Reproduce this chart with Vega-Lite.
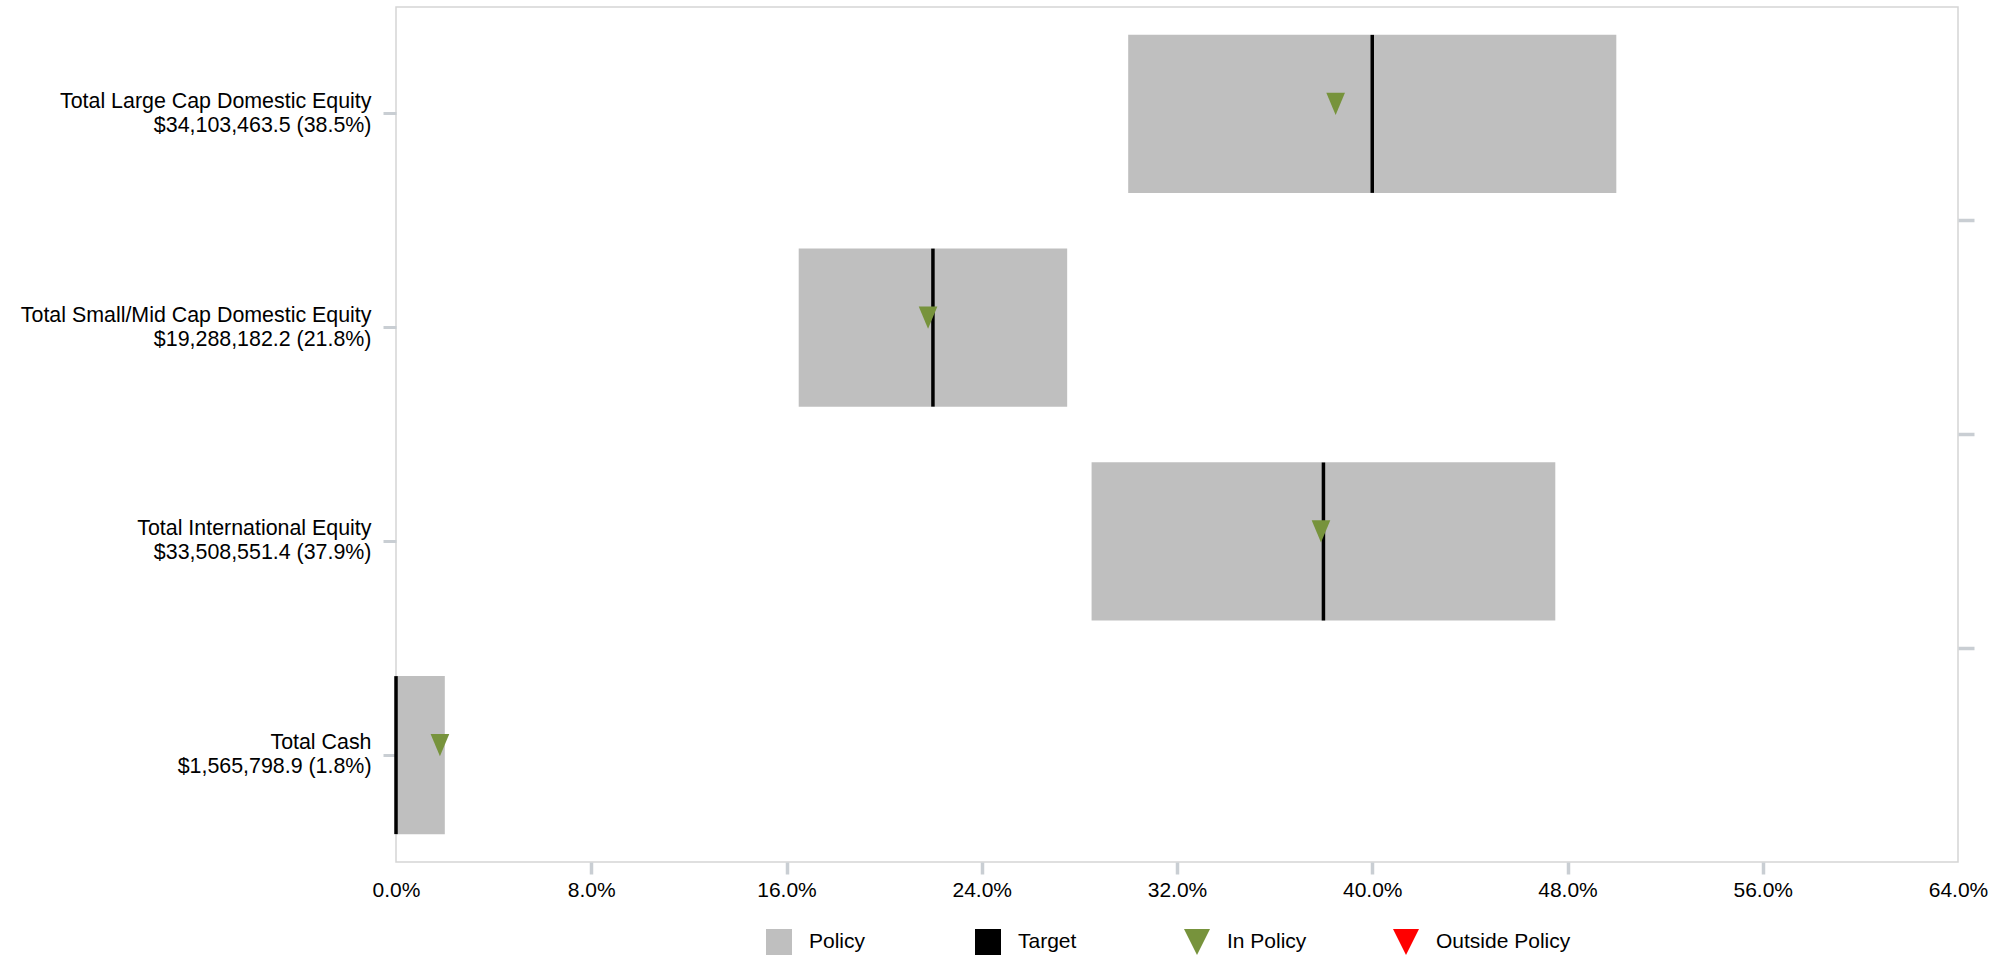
{
  "$schema": "https://vega.github.io/schema/vega-lite/v6.json",
  "width": 1562,
  "height": 855,
  "autosize": {"type": "none"},
  "padding": {"left": 396, "top": 7, "right": 47, "bottom": 96},
  "background": "white",
  "config": {
    "font": "Liberation Sans",
    "view": {"stroke": "#d5d5d5", "strokeWidth": 1.5},
    "axis": {
      "labelFont": "Liberation Sans",
      "labelFontSize": 21,
      "labelColor": "#000000",
      "tickColor": "#c9ced3",
      "domain": false,
      "grid": false,
      "title": null
    }
  },
  "data": {
    "values": [
      {"label": "Total Large Cap Domestic Equity\u00a0|$34,103,463.5 (38.5%)", "low": 0.30, "high": 0.50, "target": 0.40, "actual": 0.385, "status": "In Policy", "policy_key": "Policy", "target_key": "Target"},
      {"label": "Total Small/Mid Cap Domestic Equity\u00a0|$19,288,182.2 (21.8%)", "low": 0.165, "high": 0.275, "target": 0.22, "actual": 0.218, "status": "In Policy", "policy_key": "Policy", "target_key": "Target"},
      {"label": "Total International Equity|$33,508,551.4 (37.9%)", "low": 0.285, "high": 0.475, "target": 0.38, "actual": 0.379, "status": "In Policy", "policy_key": "Policy", "target_key": "Target"},
      {"label": "Total Cash|$1,565,798.9 (1.8%)", "low": 0.0, "high": 0.02, "target": 0.0, "actual": 0.018, "status": "In Policy", "policy_key": "Policy", "target_key": "Target"}
    ]
  },
  "resolve": {"scale": {"y": "shared", "x": "shared", "color": "shared"}, "axis": {"y": "independent"}},
  "layer": [
    {
      "mark": {"type": "bar", "height": {"band": 0.74}, "opacity": 1},
      "encoding": {
        "y": {
          "field": "label", "type": "nominal", "sort": null,
          "scale": {"paddingInner": 0, "paddingOuter": 0},
          "axis": {
            "orient": "left",
            "labelExpr": "split(datum.label, '|')",
            "labelLineHeight": 24,
            "labelLimit": 500,
            "labelAlign": "right",
            "labelBaseline": "middle",
            "labelPadding": 12,
            "labelOffset": -12,
            "tickSize": 13,
            "tickWidth": 3,
            "tickColor": "#c9ced3",
            "labelFontSize": 21.4
          }
        },
        "x": {
          "field": "low", "type": "quantitative",
          "scale": {"domain": [0, 0.64], "nice": false, "zero": false},
          "axis": {
            "values": [0, 0.08, 0.16, 0.24, 0.32, 0.4, 0.48, 0.56, 0.64],
            "format": ".1%",
            "tickSize": 12,
            "tickWidth": 3.5,
            "labelPadding": 5,
            "labelFlush": false,
            "labelBound": false,
            "labelOverlap": false,
            "tickOpacity": {"condition": {"test": "datum.value <= 0.0001 || datum.value >= 0.6399", "value": 0}, "value": 1}
          }
        },
        "x2": {"field": "high"},
        "color": {
          "field": "policy_key", "type": "nominal",
          "scale": {"domain": ["Policy", "Target", "In Policy", "Outside Policy"], "range": ["#BFBFBF", "#000000", "#77933C", "#FF0000"]},
          "legend": {
            "title": null,
            "orient": "none",
            "legendX": 370,
            "legendY": 922,
            "direction": "horizontal",
            "columns": 4,
            "gridAlign": "all",
            "columnPadding": 31,
            "symbolSize": 676,
            "symbolOpacity": 1,
            "symbolStrokeWidth": 0,
            "labelFont": "Liberation Sans",
            "labelFontSize": 21,
            "labelColor": "#000000",
            "labelOffset": 17,
            "labelLimit": 400,
            "padding": 0,
            "encode": {
              "symbols": {
                "update": {
                  "shape": {"signal": "datum.value == 'Policy' || datum.value == 'Target' ? 'square' : 'M-1,-1L1,-1L0,1Z'"}
                }
              }
            }
          }
        }
      }
    },
    {
      "mark": {"type": "tick", "thickness": 3.5, "size": 158, "opacity": 1},
      "encoding": {
        "y": {
          "field": "label", "type": "nominal", "sort": null,
          "axis": {
            "orient": "right",
            "values": ["Total Large Cap Domestic Equity\u00a0|$34,103,463.5 (38.5%)", "Total Small/Mid Cap Domestic Equity\u00a0|$19,288,182.2 (21.8%)", "Total International Equity|$33,508,551.4 (37.9%)"],
            "bandPosition": 1,
            "labels": false,
            "tickSize": 16,
            "tickWidth": 3.5,
            "tickColor": "#c9ced3",
            "domain": false
          }
        },
        "x": {"field": "target", "type": "quantitative"},
        "color": {"field": "target_key", "type": "nominal", "legend": null}
      }
    },
    {
      "mark": {"type": "point", "filled": true, "opacity": 1, "shape": "M-0.83,-1L0.83,-1L0,1Z", "size": 506, "yOffset": -10, "strokeWidth": 0},
      "encoding": {
        "y": {"field": "label", "type": "nominal", "sort": null, "axis": null},
        "x": {"field": "actual", "type": "quantitative"},
        "color": {"field": "status", "type": "nominal", "legend": null}
      }
    }
  ]
}
